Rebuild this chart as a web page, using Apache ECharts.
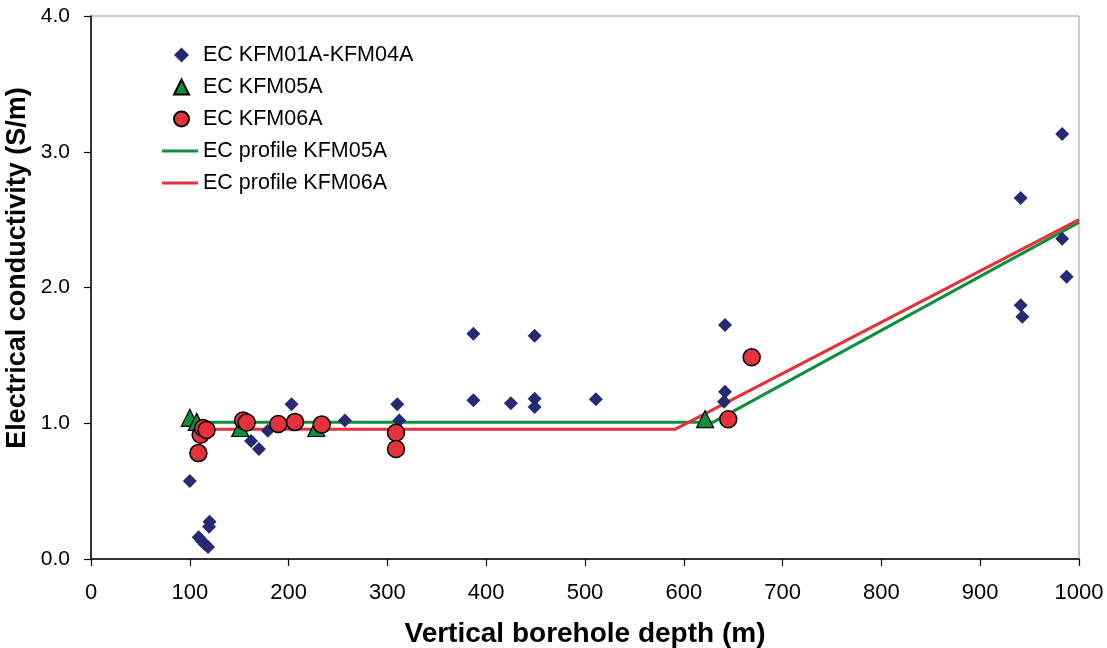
<!DOCTYPE html>
<html>
<head>
<meta charset="utf-8">
<script src="https://cdn.jsdelivr.net/npm/echarts@6/dist/echarts.min.js"></script>
<style>
html,body{margin:0;padding:0;background:#fff;}
#chart{width:1107px;height:648px;}
</style>
</head>
<body>
<div id="chart"></div>
<script>
// ---- data ----
const ecKFM01_04 = [
  [100, 0.575], [109, 0.16], [112, 0.135], [115, 0.11], [118.5, 0.088],
  [119.5, 0.238], [120, 0.275], [162, 0.87], [170, 0.81], [179, 0.945],
  [203, 1.14], [203, 0.99], [257, 1.02], [310, 1.14], [312, 1.02],
  [387, 1.66], [387, 1.17], [425, 1.147], [449, 1.645], [449, 1.18],
  [449, 1.12], [511, 1.176], [641.7, 1.724], [641.7, 1.232], [640.7, 1.159],
  [983, 3.13], [941, 2.66], [983, 2.36], [987.5, 2.08], [941, 1.87], [942.6, 1.785]
];
const ecKFM05A = [[100, 1.04], [107, 1.01], [151, 0.965], [228, 0.965], [621.5, 1.03]];
const ecKFM06A = [
  [108.7, 0.78], [111, 0.915], [113.5, 0.965], [117, 0.95], [154, 1.02],
  [157.6, 1.005], [189.6, 0.994], [206.5, 1.01], [233.5, 0.99],
  [308.7, 0.93], [308.7, 0.81], [645, 1.03], [668.7, 1.486]
];
const profileKFM05A = [[100, 1.008], [630, 1.008], [1000, 2.48]];
const profileKFM06A = [[100, 0.955], [591, 0.955], [1000, 2.5]];
const seriesNames = ['EC KFM01A-KFM04A', 'EC KFM05A', 'EC KFM06A', 'EC profile KFM05A', 'EC profile KFM06A'];
const xTitle = 'Vertical borehole depth (m)';
const yTitle = 'Electrical conductivity (S/m)';

const chart = echarts.init(document.getElementById('chart'), null, {renderer: 'canvas'});
const FONT = 'Liberation Sans, Arial, sans-serif';
const navy = '#252B72', green = '#0E8F3A', red = '#E5313B';
const legendText = {fontSize: 21.5, color: '#000', fontFamily: FONT};

chart.setOption({
  animation: false,
  backgroundColor: '#ffffff',
  textStyle: {fontFamily: FONT},
  grid: {left: 91, right: 28, top: 16, bottom: 89, outerBoundsMode: 'none', containLabel: false,
         show: true, borderColor: '#9a9a9a', borderWidth: 1},
  legend: [
    {
      orient: 'vertical', left: 173, top: 44, padding: 0,
      itemWidth: 15, itemHeight: 15, itemGap: 10,
      textStyle: Object.assign({padding: [0, 0, 0, 9]}, legendText),
      data: [
        {name: seriesNames[0], icon: 'diamond'},
        {name: seriesNames[1], icon: 'triangle'},
        {name: seriesNames[2], icon: 'circle'}
      ]
    },
    {
      orient: 'vertical', left: 162, top: 140, padding: 0,
      itemWidth: 36, itemHeight: 3, itemGap: 10,
      textStyle: legendText,
      data: [
        {name: seriesNames[3], icon: 'rect'},
        {name: seriesNames[4], icon: 'rect'}
      ]
    }
  ],
  graphic: [{
    type: 'text', x: 18, y: 268, rotation: Math.PI / 2,
    style: {text: yTitle, font: 'bold 27px ' + FONT, fill: '#000', align: 'center', verticalAlign: 'middle'}
  }],
  xAxis: {
    type: 'value', min: 0, max: 1000, interval: 100,
    name: xTitle, nameLocation: 'middle', nameGap: 61,
    nameTextStyle: {fontSize: 28, fontWeight: 'bold', color: '#000', fontFamily: FONT},
    axisLine: {onZero: false, lineStyle: {color: '#000', width: 1.5}},
    axisTick: {show: true, inside: false, length: 7, lineStyle: {color: '#000', width: 1.2}},
    axisLabel: {fontSize: 22, color: '#000', margin: 23, formatter: v => String(v)},
    splitLine: {show: false}
  },
  yAxis: {
    type: 'value', min: 0, max: 4, interval: 1,
    axisLine: {show: true, onZero: false, lineStyle: {color: '#000', width: 1.5}},
    axisTick: {show: true, inside: false, length: 7, lineStyle: {color: '#000', width: 1.2}},
    axisLabel: {fontSize: 21, color: '#000', margin: 21, formatter: v => v.toFixed(1)},
    splitLine: {show: false}
  },
  series: [
    {name: seriesNames[3], type: 'line', data: profileKFM05A, symbol: 'none', z: 1,
     lineStyle: {color: green, width: 3}, itemStyle: {color: green}},
    {name: seriesNames[4], type: 'line', data: profileKFM06A, symbol: 'none', z: 2,
     lineStyle: {color: red, width: 3}, itemStyle: {color: red}},
    {name: seriesNames[0], type: 'scatter', data: ecKFM01_04, symbol: 'diamond', symbolSize: 14, z: 3,
     itemStyle: {color: navy, opacity: 1}},
    {name: seriesNames[1], type: 'scatter', data: ecKFM05A, symbol: 'triangle', symbolSize: 17, z: 4,
     itemStyle: {color: green, borderColor: '#000', borderWidth: 1.2, opacity: 1}},
    {name: seriesNames[2], type: 'scatter', data: ecKFM06A, symbol: 'circle', symbolSize: 17, z: 5,
     itemStyle: {color: red, borderColor: '#000', borderWidth: 1.5, opacity: 1}}
  ]
});
</script>
</body>
</html>
